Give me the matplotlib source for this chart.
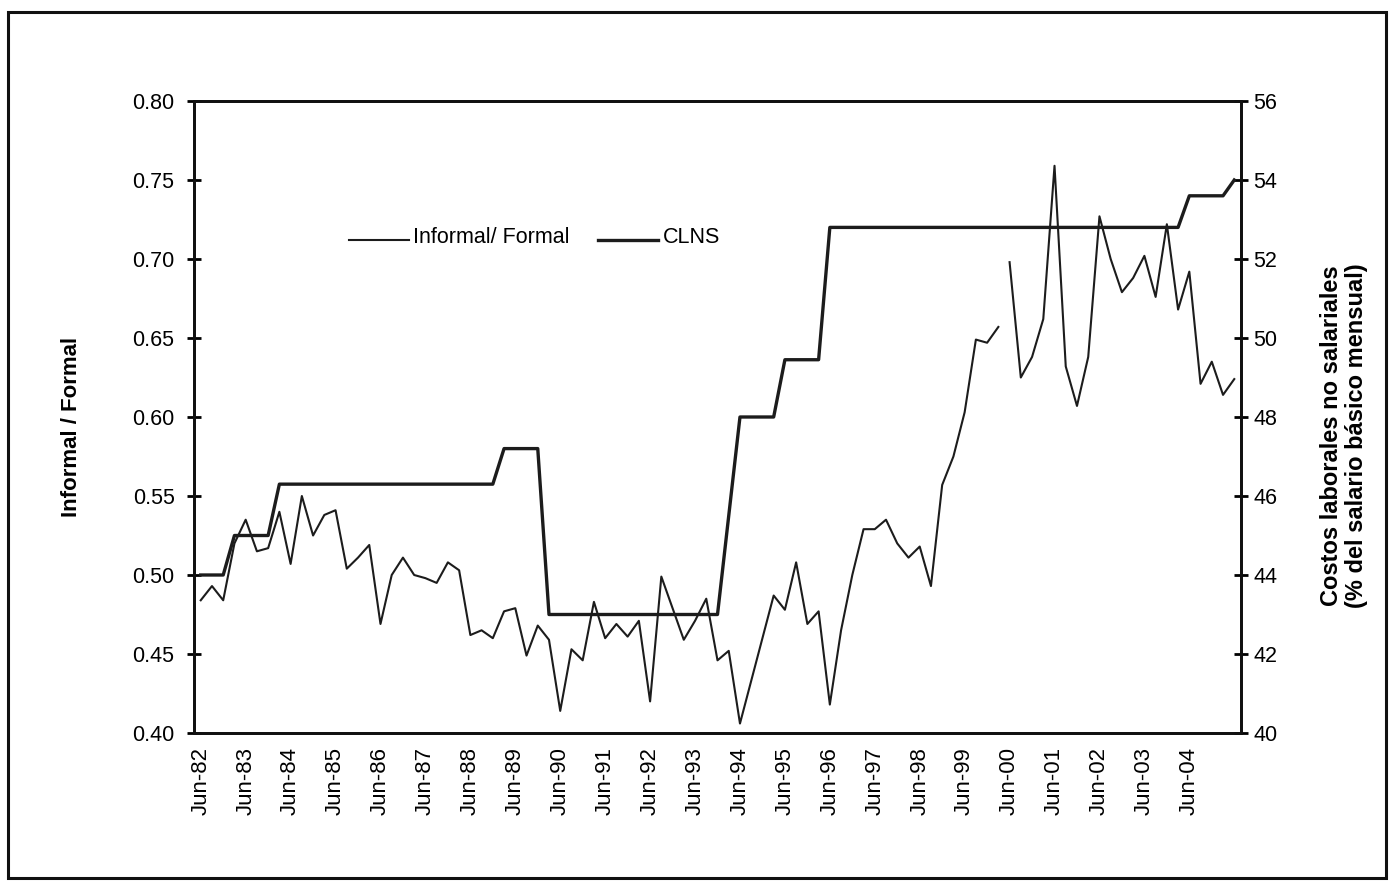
import numpy as np
import matplotlib
matplotlib.use("Agg")
import matplotlib.pyplot as plt
from matplotlib.patches import Rectangle
from matplotlib.legend_handler import HandlerLine2D

plt.rcParams['font.family'] = ['Liberation Sans', 'DejaVu Sans']

# ---------------- data (quarterly, Jun-82 .. Jun-05) ----------------
tick_labels = ["Jun-82", "Jun-83", "Jun-84", "Jun-85", "Jun-86", "Jun-87", "Jun-88",
               "Jun-89", "Jun-90", "Jun-91", "Jun-92", "Jun-93", "Jun-94", "Jun-95",
               "Jun-96", "Jun-97", "Jun-98", "Jun-99", "Jun-00", "Jun-01", "Jun-02",
               "Jun-03", "Jun-04"]

# Informal / Formal ratio, first segment (Jun-82 .. Mar-00)
informal_part1 = [0.484, 0.493, 0.484, 0.520, 0.535, 0.515, 0.517, 0.540, 0.507, 0.550,
                  0.525, 0.538, 0.541, 0.504, 0.511, 0.519, 0.469, 0.500, 0.511, 0.500,
                  0.498, 0.495, 0.508, 0.503, 0.462, 0.465, 0.460, 0.477, 0.479, 0.449,
                  0.468, 0.459, 0.414, 0.453, 0.446, 0.483, 0.460, 0.469, 0.461, 0.471,
                  0.420, 0.499, 0.479, 0.459, 0.471, 0.485, 0.446, 0.452, 0.406, 0.433,
                  0.460, 0.487, 0.478, 0.508, 0.469, 0.477, 0.418, 0.465, 0.500, 0.529,
                  0.529, 0.535, 0.520, 0.511, 0.518, 0.493, 0.557, 0.575, 0.603, 0.649,
                  0.647, 0.657]
# Informal / Formal ratio, second segment (Jun-00 .. Jun-05)
informal_part2 = [0.698, 0.625, 0.638, 0.662, 0.759, 0.632, 0.607, 0.638, 0.727, 0.700,
                  0.679, 0.688, 0.702, 0.676, 0.722, 0.668, 0.692, 0.621, 0.635, 0.614,
                  0.624]

# CLNS (% of monthly base wage)
clns = ([44.0] * 3 + [45.0] * 4 + [46.3] * 20 + [47.2] * 4 + [43.0] * 16 + [45.5]
        + [48.0] * 4 + [49.45] * 4 + [52.8] * 32 + [53.6] * 4 + [54.0])


class LowLineHandler(HandlerLine2D):
    """Legend line drawn at the text baseline, like an underscore."""
    def create_artists(self, legend, orig_handle, xdescent, ydescent, width, height,
                       fontsize, trans):
        arts = super().create_artists(legend, orig_handle, xdescent, ydescent, width,
                                      height, fontsize, trans)
        for a in arts:
            if hasattr(a, 'get_ydata'):
                a.set_ydata(np.asarray(a.get_ydata(), dtype=float) - height * 0.33)
        return arts


# ---------------- figure ----------------
fig = plt.figure(figsize=(13.91, 8.82), dpi=100)
fig.patch.set_facecolor('white')
fig.patches.append(Rectangle((8 / 1391, 1 - 878 / 882), (1386 - 8) / 1391, (878 - 12) / 882,
                             transform=fig.transFigure, fill=False, lw=2.2,
                             edgecolor='#111111', zorder=0))

ax = fig.add_axes([194 / 1391, 1 - 733 / 882, (1241 - 194) / 1391, (733 - 101) / 882])
ax2 = ax.twinx()

line_col = '#1c1c1c'
n1 = len(informal_part1)
x1 = np.arange(n1)
x2 = np.arange(n1, n1 + len(informal_part2))
h1, = ax.plot(x1, informal_part1, color=line_col, lw=1.5, label='Informal/ Formal')
ax.plot(x2, informal_part2, color=line_col, lw=1.5)

xc = np.arange(len(clns))
h2, = ax2.plot(xc, clns, color=line_col, lw=2.4, label='CLNS')

ax.set_xlim(-0.6, 92.6)
ax.set_ylim(0.40, 0.80)
ax2.set_ylim(40, 56)

yt = np.arange(0.40, 0.801, 0.05)
ax.set_yticks(yt)
ax.set_yticklabels([f"{v:.2f}" for v in yt])
ax2.set_yticks(np.arange(40, 57, 2))

ax.set_xticks(np.arange(0, 4 * len(tick_labels), 4))
ax.set_xticklabels(tick_labels, rotation=90)

for a in (ax, ax2):
    for s in a.spines.values():
        s.set_linewidth(2.0)
        s.set_color('#111111')

ax.tick_params(axis='y', direction='inout', length=10, width=2, labelsize=15.5, pad=9)
ax2.tick_params(axis='y', direction='inout', length=10, width=2, labelsize=15.5, pad=4)
ax.tick_params(axis='x', length=0, labelsize=16, pad=10)

ax.set_ylabel('Informal / Formal', fontsize=16, fontweight='bold', labelpad=0)
ax.yaxis.set_label_coords(-0.107, 0.485)
ax2.set_ylabel('Costos laborales no salariales\n(% del salario básico mensual)',
               fontsize=17, fontweight='bold', linespacing=1.1)
ax2.yaxis.set_label_coords(1.0755, 0.47)

fig.legend(handles=[h1, h2], loc='upper left',
           bbox_to_anchor=(338 / 1391, 1 - 216 / 882), ncol=2, frameon=False,
           fontsize=15.5, handlelength=2.8, handletextpad=0.2, columnspacing=1.3,
           borderpad=0,
           handler_map={h1: LowLineHandler(), h2: LowLineHandler()})

fig.savefig('out.png', dpi=100, facecolor='white')
